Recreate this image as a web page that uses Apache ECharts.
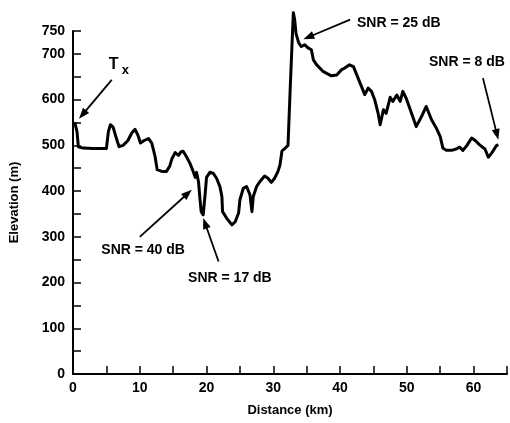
<!DOCTYPE html>
<html>
<head>
<meta charset="utf-8">
<script src="https://cdn.jsdelivr.net/npm/echarts@6/dist/echarts.min.js"></script>
<style>
  html, body { margin: 0; padding: 0; background: #fff; }
  #chart { width: 510px; height: 423px; }
</style>
</head>
<body>
<div id="chart"></div>
<script>
// Terrain profile along the path: distance (km) and ground elevation (m)
const distanceKm = [
  0.0, 0.3, 0.6, 0.8, 1.5, 3.0, 5.0, 5.3, 5.6, 6.0, 6.4, 6.9, 7.5, 8.2, 8.8, 9.3, 9.7,
  10.1, 10.6, 11.3, 11.8, 12.3, 12.6, 13.3, 14.0, 14.5, 14.8, 15.3, 15.8, 16.2, 16.5,
  17.0, 17.5, 18.0, 18.3, 18.5, 18.8, 19.0, 19.2, 19.5, 19.8, 20.0, 20.5, 21.0, 21.5,
  22.0, 22.3, 22.4, 23.0, 23.8, 24.3, 24.8, 25.0, 25.5, 26.0, 26.5, 26.8, 27.0, 27.5,
  28.0, 28.7, 29.2, 29.7, 30.2, 30.7, 31.0, 31.3, 31.8, 32.2, 32.6, 33.0, 33.2, 33.4,
  33.8, 34.2, 34.7, 35.2, 35.7, 36.0, 36.5, 37.5, 38.7, 39.5, 40.2, 40.7, 41.4, 42.0,
  42.5, 43.2, 43.7, 44.2, 44.7, 45.2, 45.7, 46.0, 46.5, 46.9, 47.5, 47.9, 48.5, 49.0,
  49.4, 49.9, 50.7, 51.4, 52.2, 52.9, 53.7, 54.4, 55.0, 55.4, 55.9, 56.7, 57.4, 57.9,
  58.4, 59.0, 59.7, 60.2, 60.9, 61.7, 62.2, 62.7, 63.4, 63.7
];
const elevationM = [
  545, 548, 530, 497, 494, 493, 493, 530, 545, 540, 520, 497, 500, 510, 527, 535, 523,
  505, 510, 515, 505, 475, 447, 443, 443, 455, 470, 484, 478, 486, 487,
  475, 461, 443, 430, 441, 420, 385, 355, 348, 395, 430, 441, 439, 428,
  410, 388, 355, 341, 326, 333, 352, 381, 406, 410, 392, 355, 388, 410,
  421, 433, 428, 419, 428, 443, 457, 488, 494, 500, 650, 790, 775, 745,
  724, 716, 720, 713, 709, 687, 676, 661, 652, 654, 665, 669, 676, 672,
  654, 629, 611, 625, 618, 599, 570, 545, 578, 570, 605, 596, 610, 596,
  618, 603, 570, 541, 563, 585, 556, 538, 519, 494, 489, 489, 492, 496,
  489, 500, 516, 511, 501, 492, 474, 483, 499, 502
];

// Annotation texts and where they sit (km, m)
const noteTexts = ['SNR = 40 dB', 'SNR = 17 dB', 'SNR = 25 dB', 'SNR = 8 dB'];
const noteKm    = [10.5, 23.5, 48.8, 59.0];
const noteElev  = [271, 210, 768, 683];
// Transmitter label "Tx" (km, m)
const txKm = 5.35, txElev = 676;

// Arrows from each note to its point on the profile (km, m): Tx, 40, 17, 25, 8 dB
const arrowFromKm   = [5.8, 10.0, 21.8, 41.5, 61.4];
const arrowFromElev = [643, 300, 246, 775, 647];
const arrowToKm     = [0.9, 17.8, 19.5, 34.5, 63.7];
const arrowToElev   = [558, 403, 341, 732, 512];

// Axis ticks
const xTickStep = 5, xLabelStep = 10, xMax = 65;
const yTickStep = 50, yLabelStep = 100, yMax = 750;

const FONT = '"Liberation Sans", Arial, sans-serif';
const profile = distanceKm.map((d, i) => [d, elevationM[i]]);

const chart = echarts.init(document.getElementById('chart'));
chart.setOption({
  animation: false,
  backgroundColor: '#fff',
  grid: { left: 73, right: 3, top: 31, bottom: 49, containLabel: false },
  xAxis: {
    type: 'value', min: 0, max: xMax, interval: xTickStep,
    name: 'Distance (km)', nameLocation: 'middle', nameGap: 30,
    nameTextStyle: { fontFamily: FONT, fontSize: 13, fontWeight: 'bold', color: '#000' },
    axisLine: { show: true, lineStyle: { color: '#000', width: 2 } },
    axisTick: { show: true, inside: true, length: 8, lineStyle: { color: '#000', width: 1.5 } },
    axisLabel: {
      color: '#000', fontFamily: FONT, fontSize: 14, fontWeight: 'bold', margin: 7,
      formatter: v => (v % xLabelStep === 0 ? String(v) : '')
    },
    splitLine: { show: false }
  },
  yAxis: {
    type: 'value', min: 0, max: yMax, interval: yTickStep,
    name: 'Elevation (m)', nameLocation: 'middle', nameGap: 52, nameRotate: 90,
    nameTextStyle: { fontFamily: FONT, fontSize: 13, fontWeight: 'bold', color: '#000' },
    axisLine: { show: true, lineStyle: { color: '#000', width: 2 } },
    axisTick: { show: true, inside: true, length: 8, lineStyle: { color: '#000', width: 1.5 } },
    axisLabel: {
      color: '#000', fontFamily: FONT, fontSize: 14, fontWeight: 'bold', margin: 8,
      formatter: v => (v % yLabelStep === 0 || v === yMax ? String(v) : '')
    },
    splitLine: { show: false }
  },
  series: [
    {
      type: 'line',
      data: profile,
      showSymbol: false,
      clip: false,
      lineStyle: { color: '#000', width: 3, join: 'round' },
      z: 3
    }
  ]
});

// Annotations: place texts and arrows through the chart's own coordinate system
const toPx = (km, m) => chart.convertToPixel({ gridIndex: 0 }, [km, m]);
const graphics = [];

arrowFromKm.forEach((_, i) => {
  const a = toPx(arrowFromKm[i], arrowFromElev[i]);
  const b = toPx(arrowToKm[i], arrowToElev[i]);
  const dx = b[0] - a[0], dy = b[1] - a[1];
  const len = Math.hypot(dx, dy);
  const ux = dx / len, uy = dy / len;
  const headLen = 11, headHalf = 4;
  const base = [b[0] - ux * headLen, b[1] - uy * headLen];
  graphics.push({
    type: 'line', silent: true, z: 10,
    shape: { x1: a[0], y1: a[1], x2: base[0] + ux * 2, y2: base[1] + uy * 2 },
    style: { stroke: '#000', lineWidth: 1.8 }
  });
  graphics.push({
    type: 'polygon', silent: true, z: 10,
    shape: { points: [
      [b[0], b[1]],
      [base[0] - uy * headHalf, base[1] + ux * headHalf],
      [base[0] + uy * headHalf, base[1] - ux * headHalf]
    ] },
    style: { fill: '#000' }
  });
});

noteTexts.forEach((t, i) => {
  const p = toPx(noteKm[i], noteElev[i]);
  graphics.push({
    type: 'text', silent: true, z: 10, x: p[0], y: p[1],
    style: {
      text: t, fill: '#000', font: 'bold 14px ' + FONT,
      align: 'center', verticalAlign: 'middle'
    }
  });
});

const tx = toPx(txKm, txElev);
graphics.push({
  type: 'text', silent: true, z: 10, x: tx[0], y: tx[1],
  style: { text: 'T', fill: '#000', font: 'bold 16px ' + FONT, align: 'left', verticalAlign: 'middle' }
});
graphics.push({
  type: 'text', silent: true, z: 10, x: tx[0] + 13, y: tx[1] + 6,
  style: { text: 'x', fill: '#000', font: 'bold 13px ' + FONT, align: 'left', verticalAlign: 'middle' }
});

chart.setOption({ graphic: graphics });
</script>
</body>
</html>
